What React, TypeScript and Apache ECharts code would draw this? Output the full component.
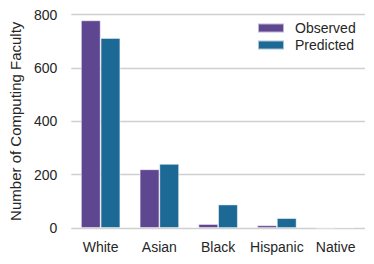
import React, { useEffect, useRef } from "react";
import * as echarts from "echarts";

const categories = ["White", "Asian", "Black", "Hispanic", "Native"];
const observed = [778, 220, 15, 10, 1];
const predicted = [712, 240, 88, 37, 3];
const seriesNames = ["Observed", "Predicted"];

export default function App() {
  const ref = useRef<HTMLDivElement>(null);
  useEffect(() => {
    document.body.style.margin = "0";
    const chart = echarts.init(ref.current!, null, { renderer: "svg" });
    const font = "Liberation Sans, Arial, sans-serif";
    chart.setOption({
      animation: false,
      textStyle: { fontFamily: font },
      grid: { left: 65, right: 9, top: 14.5, bottom: 36 },
      legend: {
        orient: "vertical",
        left: 257,
        top: 21,
        padding: 0,
        itemWidth: 26,
        itemHeight: 9,
        itemGap: 3,
        data: seriesNames,
        textStyle: { fontSize: 14, color: "#262626", fontFamily: font, padding: [0, 0, 0, 6] },
        icon: "rect",
      },
      xAxis: {
        type: "category",
        data: categories,
        axisLine: { show: false },
        axisTick: { show: false },
        axisLabel: { fontSize: 14, color: "#262626", margin: 12, fontFamily: font, interval: 0 },
      },
      yAxis: {
        type: "value",
        min: 0,
        max: 800,
        interval: 200,
        name: "Number of Computing Faculty",
        nameLocation: "middle",
        nameGap: 41,
        nameTextStyle: { fontSize: 15, color: "#262626", fontFamily: font },
        axisLine: { show: false },
        axisTick: { show: false },
        axisLabel: { fontSize: 14, color: "#262626", margin: 14, fontFamily: font },
        splitLine: { lineStyle: { color: "#d0d0d0", width: 1.3 } },
      },
      series: [
        {
          name: seriesNames[0],
          type: "bar",
          data: observed,
          barGap: "0%",
          barCategoryGap: "33%",
          itemStyle: { color: "#5F4690", borderColor: "rgba(255,255,255,0.6)", borderWidth: 0.8 },
        },
        {
          name: seriesNames[1],
          type: "bar",
          data: predicted,
          barGap: "0%",
          barCategoryGap: "33%",
          itemStyle: { color: "#1D6996", borderColor: "rgba(255,255,255,0.6)", borderWidth: 0.8 },
        },
      ],
    });
    return () => chart.dispose();
  }, []);
  return <div ref={ref} style={{ width: 374, height: 264 }} />;
}
